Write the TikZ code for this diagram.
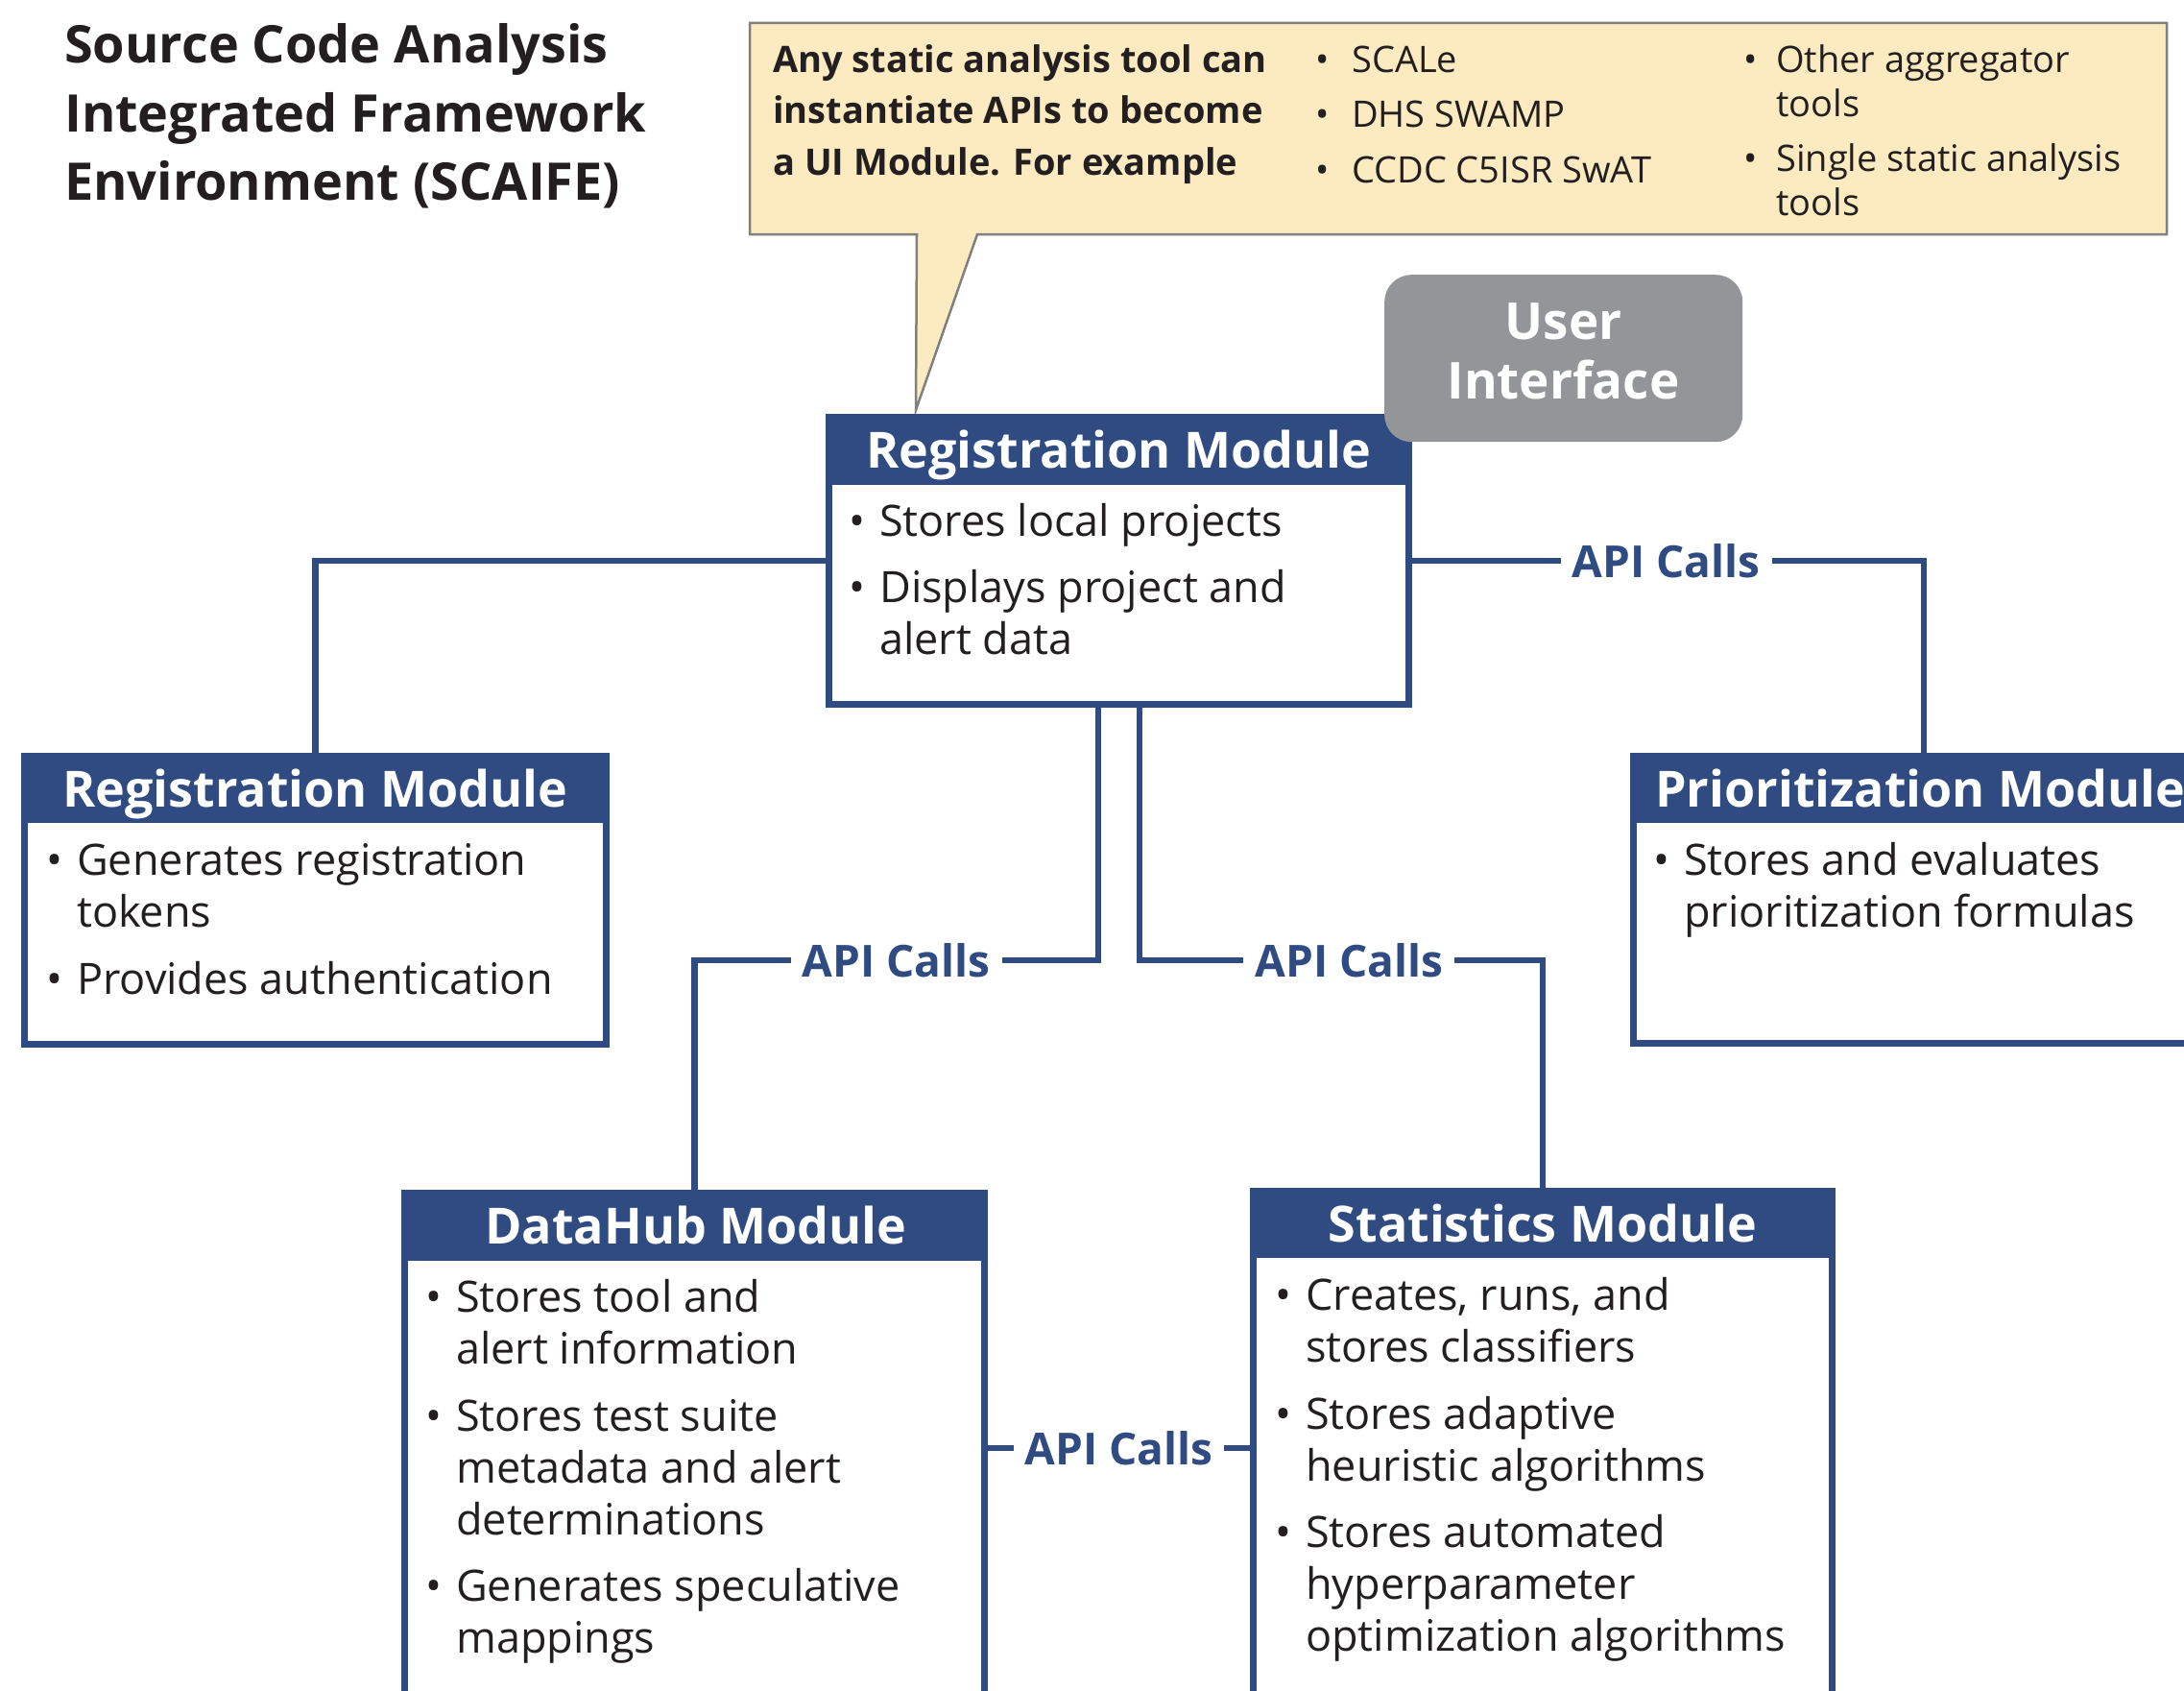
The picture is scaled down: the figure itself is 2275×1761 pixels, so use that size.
\documentclass[tikz,border=0pt]{standalone}
\usepackage{fontspec}
\setmainfont{Open Sans}
\definecolor{sblue}{HTML}{2F4B82}
\definecolor{txt}{HTML}{231F20}
\definecolor{callfill}{HTML}{FCEBC0}
\definecolor{callline}{HTML}{808080}
\definecolor{uigray}{HTML}{939598}
\newcommand{\titlefont}{\fontsize{54}{71.5}\selectfont\bfseries}
\newcommand{\calloutfont}{\fontsize{38}{53}\selectfont}
\newcommand{\uifont}{\fontsize{53}{62}\selectfont\bfseries}
\newcommand{\hdrfont}{\fontsize{52}{56}\selectfont\bfseries}
\newcommand{\bodyfont}{\fontsize{45}{54}\selectfont}
\newcommand{\apifont}{\fontsize{46}{50}\selectfont\bfseries}
\newcommand{\bul}{\leavevmode\llap{\textbullet\hspace{15pt}}}
\newcommand{\cbulA}{\leavevmode\llap{\textbullet\hspace{23pt}}}
\newcommand{\cbulB}{\leavevmode\llap{\textbullet\hspace{19pt}}}
\begin{document}
\begin{tikzpicture}[x=1pt,y=-1pt,
  box/.style={draw=sblue, line width=7pt, fill=white, inner sep=0pt, outer sep=0pt, anchor=north west},
  hdr/.style={fill=sblue, inner sep=0pt, outer sep=0pt, anchor=north west},
  htxt/.style={text=white, font=\hdrfont, anchor=base, inner sep=0pt},
  item/.style={anchor=base west, inner sep=0pt, font=\bodyfont, text=txt},
  citem/.style={anchor=base west, inner sep=0pt, text=txt},
  conn/.style={draw=sblue, line width=6.5pt},
  lbl/.style={fill=white, text=sblue, font=\apifont, inner sep=0pt, inner xsep=12pt, minimum height=20pt}
]
\useasboundingbox (0,0) rectangle (2275,1761);
\clip (0,0) rectangle (2275,1761);

% title
\node[citem] (title) at (67,66) {\parbox[t]{800pt}{\titlefont Source Code Analysis\\Integrated Framework\\Environment (SCAIFE)}};

% callout
\draw[fill=callfill, draw=callline, line width=2.5pt]
  (781,24) -- (2257,24) -- (2257,244) -- (1018,244) -- (954,427) -- (955,244) -- (781,244) -- cycle;
\node[citem] (cq) at (805,76) {\parbox[t]{600pt}{\calloutfont\bfseries Any static analysis tool can\\instantiate APIs to become\\a UI Module. For example}};
\node[citem, font=\calloutfont] (c1) at (1408,76) {\cbulA SCALe};
\node[citem, font=\calloutfont] (c2) at (1408,132) {\cbulA DHS SWAMP};
\node[citem, font=\calloutfont] (c3) at (1408,190) {\cbulA CCDC C5ISR SwAT};
\node[citem] (c4) at (1850,76) {\parbox[t]{500pt}{\fontsize{38}{46}\selectfont\cbulB Other aggregator\\tools}};
\node[citem] (c5) at (1850,178) {\parbox[t]{500pt}{\fontsize{38}{46}\selectfont\cbulB Single static analysis\\tools}};

% boxes
\node[box, minimum width=604pt, minimum height=299pt] (reg) at (863.5,434.5) {};
\node[box, minimum width=606pt, minimum height=300pt] (regL) at (25.5,787.5) {};
\node[box, minimum width=605pt, minimum height=299pt] (prio) at (1701.5,787.5) {};
\node[box, minimum width=604pt, minimum height=531pt] (dh) at (421.5,1242.5) {};
\node[box, minimum width=603pt, minimum height=536pt] (stat) at (1305.5,1240) {};

% connectors
\draw[conn] (reg.west) -| (regL.north);
\draw[conn] (reg.east) -| (prio.north) node[pos=0.25, lbl] {API Calls};
\draw[conn] ([xshift=-21.5pt]reg.south) -- ++(0,266.5) -| (dh.north) node[pos=0.25, lbl] {API Calls};
\draw[conn] ([xshift=21.5pt]reg.south) -- ++(0,266.5) -| (stat.north) node[pos=0.26, lbl] {API Calls};
\draw[conn] (dh.east) -- (stat.west) node[midway, lbl] {API Calls};

% headers
\node[hdr, minimum width=611pt, minimum height=74pt] (regH) at (860,431) {};
\node[hdr, minimum width=613pt, minimum height=73pt] (regLH) at (22,784) {};
\node[hdr, minimum width=612pt, minimum height=73pt] (prioH) at (1698,784) {};
\node[hdr, minimum width=611pt, minimum height=74pt] (dhH) at (418,1239) {};
\node[hdr, minimum width=610pt, minimum height=73.5pt] (statH) at (1302,1236.5) {};

\node[htxt] (regT) at (1165.5,487) {Registration Module};
\node[htxt] (regLT) at (328.5,840) {Registration Module};
\node[htxt, anchor=base west] (prioT) at (1724,840) {Prioritization Module};
\node[htxt] (dhT) at (725,1295) {DataHub Module};
\node[htxt] (statT) at (1607,1293) {Statistics Module};

% user interface
\node[fill=uigray, rounded corners=28pt, minimum width=373pt, minimum height=174pt, anchor=north west, inner sep=0pt] (ui) at (1442,286) {};
\node[anchor=base, inner sep=0pt, text=white] (uiT) at (1628.5,353) {\parbox[t]{360pt}{\centering\uifont User\\Interface}};

% items
\node[item] (r1) at (916,558) {\bul Stores local projects};
\node[item] (r2) at (916,627) {\parbox[t]{540pt}{\bodyfont\bul Displays project and\\alert data}};
\node[item] (l1) at (80,911) {\parbox[t]{540pt}{\bodyfont\bul Generates registration\\tokens}};
\node[item] (l2) at (80,1035) {\bul Provides authentication};
\node[item] (p1) at (1754,911) {\parbox[t]{540pt}{\bodyfont\bul Stores and evaluates\\prioritization formulas}};
\node[item] (d1) at (475,1366) {\parbox[t]{540pt}{\bodyfont\bul Stores tool and\\alert information}};
\node[item] (d2) at (475,1490) {\parbox[t]{540pt}{\bodyfont\bul Stores test suite\\metadata and alert\\determinations}};
\node[item] (d3) at (475,1667) {\parbox[t]{540pt}{\bodyfont\bul Generates speculative\\mappings}};
\node[item] (s1) at (1360,1364) {\parbox[t]{540pt}{\bodyfont\bul Creates, runs, and\\stores classifiers}};
\node[item] (s2) at (1360,1488) {\parbox[t]{540pt}{\bodyfont\bul Stores adaptive\\heuristic algorithms}};
\node[item] (s3) at (1360,1611) {\parbox[t]{540pt}{\bodyfont\bul Stores automated\\hyperparameter\\optimization algorithms}};
\end{tikzpicture}
\end{document}
